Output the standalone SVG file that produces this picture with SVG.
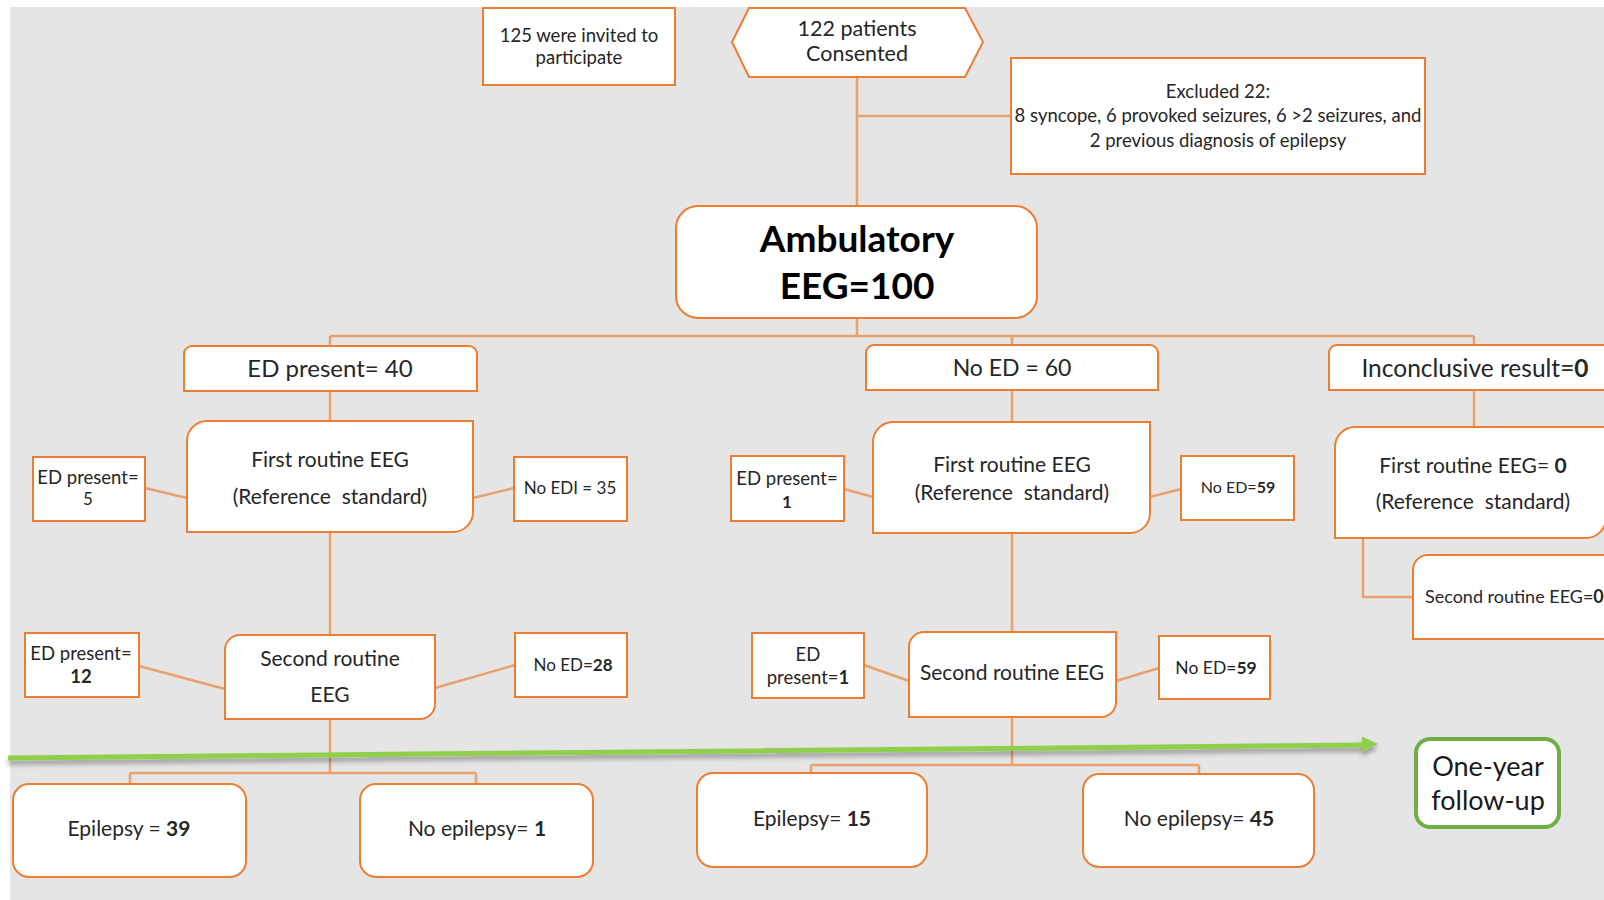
<svg xmlns="http://www.w3.org/2000/svg" width="1604" height="900" viewBox="0 0 1604 900">
  <style>
    text { font-family: Lato, "Open Sans", "Liberation Sans", sans-serif; fill: #262626; text-anchor: middle; }
    .box { fill: #ffffff; stroke: #ed7d31; stroke-width: 2; }
    .link { fill: none; stroke: #e9a16e; stroke-width: 2.5; }
    .s16 { font-size: 16px; }
    .s17 { font-size: 17px; }
    .s18 { font-size: 18.5px; }
    .s21 { font-size: 21px; }
    .s23 { font-size: 23px; }
    .s24 { font-size: 24px; }
    .big { font-size: 37px; font-weight: bold; fill: #000000; }
    .b { font-weight: bold; }
  </style>
  <defs>
    <filter id="shadow" x="-5%" y="-200%" width="110%" height="500%">
      <feDropShadow dx="0" dy="4" stdDeviation="2.5" flood-color="#000000" flood-opacity="0.35"/>
    </filter>
  </defs>

  <!-- page background -->
  <rect x="0" y="0" width="1604" height="900" fill="#ffffff"/>
  <rect x="10" y="7" width="1594" height="893" fill="#e5e5e5"/>

  <!-- connectors -->
  <g id="connectors">
    <path class="link" d="M857 77 V206 M857 116 H1011"/>
    <path class="link" d="M857 318 V336 M330 336 H1474 M330 336 V346 M1012 336 V345 M1474 336 V345"/>
    <path class="link" d="M330 391 V421 M1012 390 V422 M1474 390 V427"/>
    <path class="link" d="M145 488 L187 498 M473 498 L514 488 M844 489 L873 497 M1150 497 L1181 489"/>
    <path class="link" d="M330 532 V635 M1012 533 V632"/>
    <path class="link" d="M139 666 L225 689 M435 688 L515 665 M864 665 L909 681 M1116 681 L1159 668"/>
    <path class="link" d="M1363 538 V597 H1413"/>
    <path class="link" d="M330 719 V773 M130 773 H476 M130 773 V784 M476 773 V784"/>
    <path class="link" d="M1012 717 V765 M811 765 H1199 M811 765 V774 M1199 765 V774"/>
  </g>

  <!-- follow-up time line -->
  <g id="timeline" filter="url(#shadow)">
    <line x1="8" y1="758" x2="1364" y2="745" stroke="#8fcf4c" stroke-width="5"/>
    <polygon points="1378,744 1362,736.5 1362,752" fill="#8fcf4c"/>
  </g>

  <g id="invited">
    <rect class="box" x="483" y="8" width="192" height="77"/>
    <text class="s18" x="579" y="42">125 were invited to</text>
    <text class="s18" x="579" y="64">participate</text>
  </g>

  <g id="consented">
    <polygon class="box" points="732,42 749,8 965,8 983,42 965,77 749,77"/>
    <text x="857" y="36" style="font-size:21.5px">122 patients</text>
    <text x="857" y="61" style="font-size:21.5px">Consented</text>
  </g>

  <g id="excluded">
    <rect class="box" x="1011" y="58" width="414" height="116"/>
    <text class="s18" x="1218" y="98">Excluded 22:</text>
    <text class="s18" x="1218" y="122">8 syncope, 6 provoked seizures, 6 &gt;2 seizures, and</text>
    <text class="s18" x="1218" y="147">2 previous diagnosis of epilepsy</text>
  </g>

  <g id="ambulatory">
    <rect class="box" x="676" y="206" width="361" height="112" rx="22"/>
    <text class="big" x="857" y="252">Ambulatory</text>
    <text class="big" x="857" y="299">EEG=100</text>
  </g>

  <!-- ED present branch -->
  <g id="ed-present">
    <path class="box" d="M184 391 V354 A8 8 0 0 1 192 346 H469 A8 8 0 0 1 477 354 V391 Z"/>
    <text class="s24" x="330" y="377">ED present= 40</text>
  </g>
  <g id="first-eeg-ed">
    <path class="box" d="M187 532 V441 A20 20 0 0 1 207 421 H473 V512 A20 20 0 0 1 453 532 Z"/>
    <text class="s21" x="330" y="467">First routine EEG</text>
    <text class="s21" x="330" y="504" xml:space="preserve">(Reference  standard)</text>
  </g>
  <g id="first-ed-yes">
    <rect class="box" x="33" y="457" width="112" height="64"/>
    <text class="s18" x="88" y="484">ED present=</text>
    <text class="s17" x="88" y="505">5</text>
  </g>
  <g id="first-ed-no">
    <rect class="box" x="514" y="457" width="113" height="64"/>
    <text class="s17" x="570" y="494">No EDI = 35</text>
  </g>
  <g id="second-eeg-ed">
    <path class="box" d="M225 719 V650 A15 15 0 0 1 240 635 H435 V704 A15 15 0 0 1 420 719 Z"/>
    <text class="s21" x="330" y="666">Second routine</text>
    <text class="s21" x="330" y="702">EEG</text>
  </g>
  <g id="second-ed-yes">
    <rect class="box" x="25" y="633" width="114" height="64"/>
    <text class="s18" x="81" y="660">ED present=</text>
    <text class="s18 b" x="81" y="683">12</text>
  </g>
  <g id="second-ed-no">
    <rect class="box" x="515" y="633" width="112" height="64"/>
    <text class="s17" x="573" y="671">No ED=<tspan class="b">28</tspan></text>
  </g>
  <g id="epilepsy-ed">
    <rect class="box" x="13" y="784" width="233" height="93" rx="16"/>
    <text class="s21" x="129" y="836">Epilepsy  = <tspan class="b">39</tspan></text>
  </g>
  <g id="no-epilepsy-ed">
    <rect class="box" x="360" y="784" width="233" height="93" rx="16"/>
    <text class="s21" x="477" y="836">No epilepsy=  <tspan class="b">1</tspan></text>
  </g>

  <!-- No ED branch -->
  <g id="no-ed">
    <path class="box" d="M866 390 V353 A8 8 0 0 1 874 345 H1150 A8 8 0 0 1 1158 353 V390 Z"/>
    <text class="s23" x="1012" y="376">No ED = 60</text>
  </g>
  <g id="first-eeg-noed">
    <path class="box" d="M873 533 V442 A20 20 0 0 1 893 422 H1150 V513 A20 20 0 0 1 1130 533 Z"/>
    <text class="s21" x="1012" y="472">First routine EEG</text>
    <text class="s21" x="1012" y="500" xml:space="preserve">(Reference  standard)</text>
  </g>
  <g id="first-noed-yes">
    <rect class="box" x="731" y="456" width="113" height="65"/>
    <text class="s18" x="787" y="485">ED present=</text>
    <text class="s17 b" x="787" y="508">1</text>
  </g>
  <g id="first-noed-no">
    <rect class="box" x="1181" y="456" width="113" height="64"/>
    <text class="s16" x="1238" y="493">No ED=<tspan class="b">59</tspan></text>
  </g>
  <g id="second-eeg-noed">
    <path class="box" d="M909 717 V647 A15 15 0 0 1 924 632 H1116 V702 A15 15 0 0 1 1101 717 Z"/>
    <text class="s21" x="1012" y="680">Second routine EEG</text>
  </g>
  <g id="second-noed-yes">
    <rect class="box" x="752" y="633" width="112" height="65"/>
    <text class="s18" x="808" y="661">ED</text>
    <text class="s18" x="808" y="684">present=<tspan class="b">1</tspan></text>
  </g>
  <g id="second-noed-no">
    <rect class="box" x="1159" y="636" width="111" height="63"/>
    <text x="1216" y="674" style="font-size:17.5px">No ED=<tspan class="b">59</tspan></text>
  </g>
  <g id="epilepsy-noed">
    <rect class="box" x="697" y="773" width="230" height="94" rx="16"/>
    <text class="s21" x="812" y="826">Epilepsy= <tspan class="b">15</tspan></text>
  </g>
  <g id="no-epilepsy-noed">
    <rect class="box" x="1083" y="774" width="231" height="93" rx="16"/>
    <text class="s21" x="1199" y="826">No epilepsy= <tspan class="b">45</tspan></text>
  </g>

  <!-- Inconclusive branch -->
  <g id="inconclusive">
    <path class="box" d="M1329 390 V353 A8 8 0 0 1 1337 345 H1620 V390 Z"/>
    <text x="1475" y="377" style="font-size:24.5px">Inconclusive result=<tspan class="b">0</tspan></text>
  </g>
  <g id="first-eeg-inconclusive">
    <path class="box" d="M1335 538 V447 A20 20 0 0 1 1355 427 H1606 V518 A20 20 0 0 1 1586 538 Z"/>
    <text class="s21" x="1473" y="473">First routine EEG= <tspan class="b">0</tspan></text>
    <text class="s21" x="1473" y="509" xml:space="preserve">(Reference  standard)</text>
  </g>
  <g id="second-eeg-inconclusive">
    <path class="box" d="M1413 639 V570 A15 15 0 0 1 1428 555 H1620 V639 Z"/>
    <text x="1425" y="603" style="font-size:18px;text-anchor:start">Second routine EEG=<tspan class="b">0</tspan></text>
  </g>

  <g id="follow-up">
    <rect x="1416" y="739" width="143" height="88" rx="14" fill="#ffffff" stroke="#70ad47" stroke-width="4"/>
    <text x="1488" y="776" style="font-size:27px;fill:#1a1a1a">One-year</text>
    <text x="1488" y="810" style="font-size:27px;fill:#1a1a1a">follow-up</text>
  </g>
</svg>
